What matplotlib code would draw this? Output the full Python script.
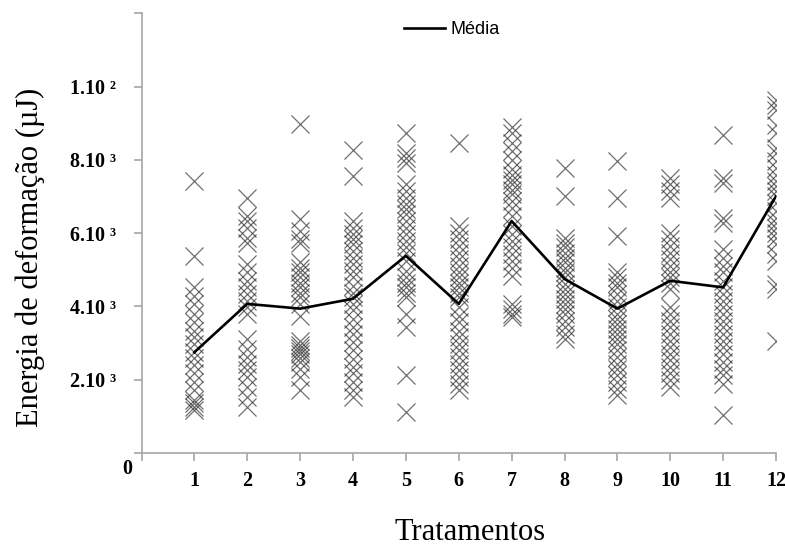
import matplotlib
matplotlib.use("Agg")
import matplotlib.pyplot as plt
from matplotlib.lines import Line2D

# Energia de deformação (µJ) por tratamento
energia_t1 = [7420, 5380, 4520, 4290, 4070, 3800, 3570, 3340, 3160, 2980, 2750,
              2580, 2390, 2170, 1940, 1710, 1440, 1360, 1260, 1170]
energia_t2 = [6960, 6470, 6330, 6150, 5880, 5740, 5150, 4930, 4700, 4520, 4340,
              4160, 3980, 3800, 3120, 2850, 2620, 2440, 2260, 2070, 1800, 1530, 1260]
energia_t3 = [8970, 6380, 6060, 5830, 5740, 5200, 5060, 4930, 4790, 4650, 4520,
              4380, 4250, 4070, 3750, 3070, 2960, 2870, 2780, 2690, 2600, 2480,
              2300, 2070, 1710]
energia_t4 = [8280, 7550, 6330, 6150, 5970, 5830, 5700, 5520, 5330, 5150, 4970,
              4790, 4570, 4380, 4250, 4070, 3890, 3660, 3430, 3250, 3020, 2800,
              2570, 2350, 2170, 1940, 1710, 1530]
energia_t5 = [8730, 8190, 8050, 7920, 7330, 7150, 6960, 6790, 6650, 6510, 6330,
              6150, 5970, 5790, 5610, 5470, 5240, 4970, 4790, 4650, 4520, 4380,
              4250, 3800, 3430, 2120, 1120]
energia_t6 = [8460, 6200, 6010, 5830, 5650, 5470, 5290, 5110, 4930, 4790, 4650,
              4520, 4380, 4250, 3980, 3750, 3570, 3340, 3160, 2980, 2800, 2620,
              2440, 2260, 2070, 1890, 1710]
energia_t7 = [8910, 8730, 8460, 8230, 8010, 7740, 7600, 7460, 7330, 7190, 7060,
              6880, 6690, 6470, 6200, 5970, 5790, 5610, 5430, 5240, 5060, 4840,
              4070, 3930, 3800, 3700]
energia_t8 = [7780, 7010, 5880, 5740, 5610, 5470, 5330, 5200, 5060, 4930, 4790,
              4610, 4480, 4340, 4200, 4070, 3930, 3800, 3610, 3430, 3250, 3120]
energia_t9 = [7960, 6960, 5920, 4930, 4790, 4650, 4520, 4340, 4160, 3980, 3800,
              3660, 3520, 3390, 3250, 3120, 2980, 2800, 2620, 2440, 2300, 2120,
              1940, 1760, 1580]
energia_t10 = [7510, 7330, 7150, 6960, 6010, 5830, 5650, 5470, 5290, 5110, 4930,
               4790, 4650, 4480, 3980, 3800, 3610, 3430, 3250, 3070, 2890, 2710,
               2530, 2350, 2170, 1980, 1800]
energia_t11 = [8690, 7510, 7370, 6420, 6290, 5560, 5330, 5110, 4930, 4700, 4520,
               4340, 4160, 3980, 3800, 3610, 3430, 3250, 3070, 2890, 2710, 2480,
               2300, 2120, 1890, 1030]
energia_t12 = [9640, 9500, 9370, 8960, 8730, 8320, 8190, 7960, 7780, 7600, 7420,
               7280, 7150, 7010, 6830, 6600, 6420, 6290, 6150, 6010, 5880, 5700,
               5430, 5240, 4610, 4480, 3070]

tratamentos = list(range(1, 13))
grupos = [energia_t1, energia_t2, energia_t3, energia_t4, energia_t5, energia_t6,
          energia_t7, energia_t8, energia_t9, energia_t10, energia_t11, energia_t12]
media = [2750, 4070, 3940, 4210, 5380, 4070, 6330, 4750, 3940, 4700, 4520, 7010]

y_ticks = [0, 2000, 4000, 6000, 8000, 10000, 12000]
y_tick_labels = ["", "2.10 ³", "4.10 ³", "6.10 ³", "8.10 ³", "1.10 ²", ""]
x_tick_labels = [""] + [str(t) for t in tratamentos]

W, H = 785, 548
fig = plt.figure(figsize=(W / 100, H / 100), dpi=100)
ax = fig.add_axes([141.5 / W, 1 - 453 / H, (776 - 141.5) / W, (453 - 13.3) / H])

for t, valores in zip(tratamentos, grupos):
    ax.scatter([t] * len(valores), valores, marker="x", s=13 ** 2,
               color="#333333", alpha=0.7, linewidths=0.9, zorder=2)

ax.plot(tratamentos, media, color="black", lw=1.9, zorder=3,
        solid_joinstyle="round")

ax.set_xlim(0, 12)
ax.set_ylim(0, 12000)
ax.set_xticks(range(0, 13))
ax.set_xticklabels(x_tick_labels)
ax.set_yticks(y_ticks)
ax.set_yticklabels(y_tick_labels)

gray = "#a6a6a6"
for side in ("top", "right"):
    ax.spines[side].set_visible(False)
for side in ("left", "bottom"):
    ax.spines[side].set_color(gray)
    ax.spines[side].set_linewidth(1.2)

tick_font = dict(family="Liberation Serif", weight="bold", size=14.5)
ax.tick_params(axis="both", direction="out", color=gray, width=1.2, length=6)
ax.tick_params(axis="x", pad=7)
ax.tick_params(axis="y", pad=12)
for lab in ax.get_xticklabels() + ax.get_yticklabels():
    lab.set_fontfamily("Liberation Serif")
    lab.set_fontweight("bold")
    lab.set_fontsize(14.5)

ax.annotate("0", xy=(0, 0), xycoords="data", xytext=(-14, -16),
            textcoords="offset pixels", ha="center", va="center", **tick_font)

fig.text(30 / W, 1 - 257 / H, "Energia de deformação (µJ)", rotation=90,
         ha="center", va="center", family="Liberation Serif", size=22)
fig.text(470 / W, 1 - 533 / H, "Tratamentos", ha="center", va="center",
         family="Liberation Serif", size=22)

handle = Line2D([], [], color="black", lw=1.9)
ax.legend([handle], ["Média"], loc="center", frameon=False,
          bbox_to_anchor=(452 / W, 1 - 30 / H), bbox_transform=fig.transFigure,
          prop=dict(family="Liberation Sans", size=13), handlelength=2.3,
          handletextpad=0.3)

fig.savefig("out.png", dpi=100)
